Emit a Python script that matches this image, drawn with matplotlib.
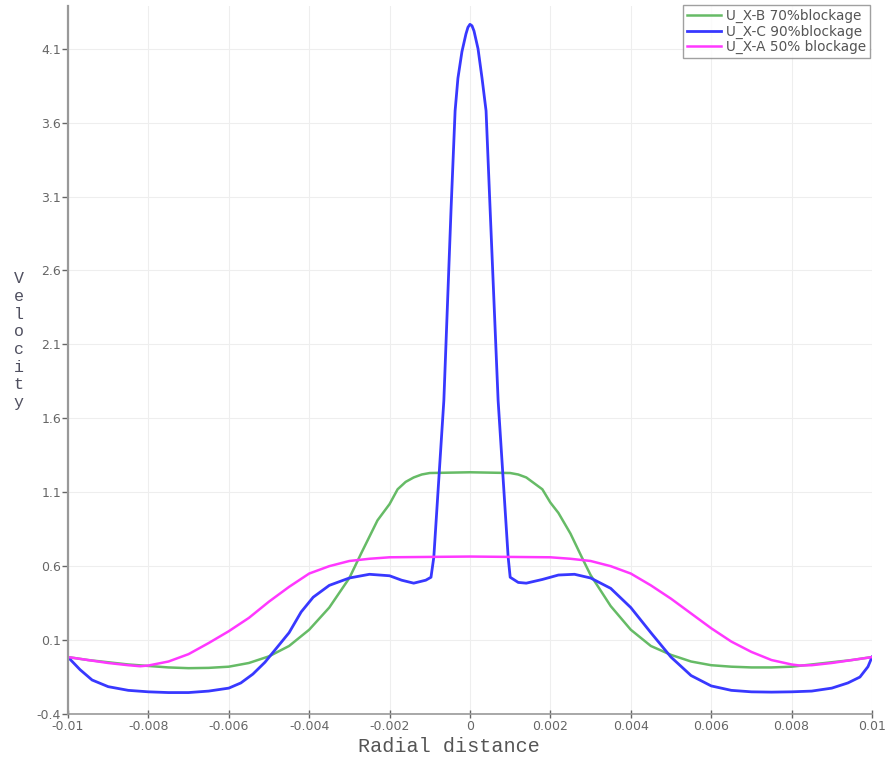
import numpy as np
import matplotlib
matplotlib.use("Agg")
from matplotlib import pyplot as plt

# U_X-B 70% blockage
green_x = [-0.01, -0.0095, -0.009, -0.0085, -0.008, -0.0075, -0.007, -0.0065, -0.006, -0.0055,
           -0.005, -0.0045, -0.004, -0.0035, -0.003, -0.0027, -0.0023, -0.002, -0.0018, -0.0016,
           -0.0014, -0.0012, -0.001, 0, 0.001, 0.0012, 0.0014, 0.0016, 0.0018, 0.002,
           0.0022, 0.0025, 0.0028, 0.003, 0.0035, 0.004, 0.0045, 0.005, 0.0055, 0.006,
           0.0065, 0.007, 0.0075, 0.008, 0.0085, 0.009, 0.0095, 0.01]
green_y = [-0.015, -0.035, -0.05, -0.065, -0.075, -0.085, -0.09, -0.088, -0.08, -0.055,
           -0.01, 0.06, 0.17, 0.32, 0.52, 0.69, 0.91, 1.02, 1.12, 1.17,
           1.20, 1.22, 1.23, 1.235, 1.23, 1.22, 1.20, 1.16, 1.12, 1.03,
           0.96, 0.82, 0.65, 0.54, 0.33, 0.17, 0.06, 0.0, -0.045, -0.07,
           -0.08, -0.085, -0.085, -0.08, -0.065, -0.05, -0.035, -0.015]

# U_X-C 90% blockage
blue_x = [-0.01, -0.0097, -0.0094, -0.009, -0.0085, -0.008, -0.0075, -0.007, -0.0065, -0.006,
          -0.0057, -0.0054, -0.0051, -0.0048, -0.0045, -0.0042, -0.0039, -0.0035, -0.003, -0.0025,
          -0.002, -0.0017, -0.0014, -0.0011, -0.00097, -0.0009, -0.00065, -0.00047, -0.00037, -0.0003,
          -0.0002, -0.0001, -0.00005, 0, 0.00005, 0.0001, 0.0002,
          0.0003, 0.0004, 0.0005, 0.0007, 0.00095, 0.001, 0.0012, 0.0014, 0.0018,
          0.0022, 0.0026, 0.003, 0.0035, 0.004, 0.0045, 0.005, 0.0055, 0.006, 0.0065,
          0.007, 0.0075, 0.008, 0.0085, 0.009, 0.0094, 0.0097, 0.0099, 0.01]
blue_y = [-0.015, -0.10, -0.17, -0.215, -0.24, -0.25, -0.255, -0.255, -0.245, -0.225,
          -0.19, -0.13, -0.05, 0.05, 0.15, 0.29, 0.39, 0.47, 0.52, 0.545,
          0.535, 0.505, 0.485, 0.505, 0.525, 0.66, 1.72, 3.02, 3.68, 3.90,
          4.08, 4.20, 4.245, 4.265, 4.255, 4.22, 4.10,
          3.90, 3.68, 3.02, 1.72, 0.66, 0.525, 0.49, 0.485, 0.51,
          0.54, 0.545, 0.52, 0.45, 0.32, 0.15, -0.015, -0.14, -0.21, -0.24,
          -0.25, -0.252, -0.25, -0.245, -0.225, -0.19, -0.15, -0.08, -0.015]

# U_X-A 50% blockage
mag_x = [-0.01, -0.0095, -0.009, -0.0085, -0.0082, -0.008, -0.0075, -0.007, -0.0065, -0.006,
         -0.0055, -0.005, -0.0045, -0.004, -0.0035, -0.003, -0.0025, -0.002, 0, 0.002,
         0.0025, 0.003, 0.0035, 0.004, 0.0045, 0.005, 0.0055, 0.006, 0.0065, 0.007,
         0.0075, 0.008, 0.0082, 0.0085, 0.009, 0.0095, 0.01]
mag_y = [-0.015, -0.035, -0.055, -0.07, -0.077, -0.072, -0.045, 0.005, 0.08, 0.16,
         0.25, 0.36, 0.46, 0.55, 0.60, 0.635, 0.65, 0.66, 0.665, 0.66,
         0.65, 0.635, 0.60, 0.55, 0.47, 0.38, 0.28, 0.18, 0.09, 0.02,
         -0.035, -0.065, -0.072, -0.07, -0.055, -0.035, -0.015]

labels = ['U_X-B 70%blockage', 'U_X-C 90%blockage', 'U_X-A 50% blockage']
colors = ['#66bb66', '#3838ff', '#ff38ff']

xticks = [-0.01, -0.008, -0.006, -0.004, -0.002, 0, 0.002, 0.004, 0.006, 0.008, 0.01]
xticklabels = ['-0.01', '-0.008', '-0.006', '-0.004', '-0.002', '0',
               '0.002', '0.004', '0.006', '0.008', '0.01']
yticks = [-0.4, 0.1, 0.6, 1.1, 1.6, 2.1, 2.6, 3.1, 3.6, 4.1]
yticklabels = ['-0.4', '0.1', '0.6', '1.1', '1.6', '2.1', '2.6', '3.1', '3.6', '4.1']

fig = plt.figure(figsize=(8.85, 7.57), dpi=100)
ax = fig.add_axes([0.0768, 0.0568, 0.9085, 0.9355])

ax.plot(green_x, green_y, color=colors[0], lw=1.8, label=labels[0])
ax.plot(blue_x, blue_y, color=colors[1], lw=2.0, label=labels[1])
ax.plot(mag_x, mag_y, color=colors[2], lw=1.8, label=labels[2])

ax.set_xlim(-0.01, 0.01)
ax.set_ylim(-0.4, 4.39)
ax.set_xticks(xticks)
ax.set_xticklabels(xticklabels)
ax.set_yticks(yticks)
ax.set_yticklabels(yticklabels)
ax.tick_params(axis='both', labelsize=9, colors='#666666', length=4, width=1)
ax.tick_params(axis='x', direction='inout', length=6, pad=1)
ax.tick_params(axis='y', pad=1)

ax.grid(True, color='#eeeeee', lw=0.8)
ax.set_axisbelow(True)
for s in ['top', 'right']:
    ax.spines[s].set_visible(False)
ax.spines['left'].set_color('#999999')
ax.spines['left'].set_linewidth(1.6)
ax.spines['bottom'].set_color('#999999')
ax.spines['bottom'].set_linewidth(1.2)

ax.set_xlabel('Radial distance', family='Liberation Mono', fontsize=14.5,
              color='#555555')
ax.xaxis.set_label_coords(0.474, -0.033)
fig.text(0.021, 0.55, '\n'.join('Velocity'), family='Liberation Mono', fontsize=12,
         color='#505060', ha='center', va='center', linespacing=1.22)

leg = ax.legend(loc='upper right', bbox_to_anchor=(0.983, 0.9934),
                bbox_transform=fig.transFigure, borderaxespad=0,
                fontsize=9.8, frameon=True, fancybox=False, handlelength=2.5,
                handletextpad=0.35, labelspacing=0.1, borderpad=0.3)
leg.get_frame().set_edgecolor('#888888')
leg.get_frame().set_linewidth(1.0)
for t in leg.get_texts():
    t.set_color('#555555')

fig.savefig('out.png', dpi=100)
